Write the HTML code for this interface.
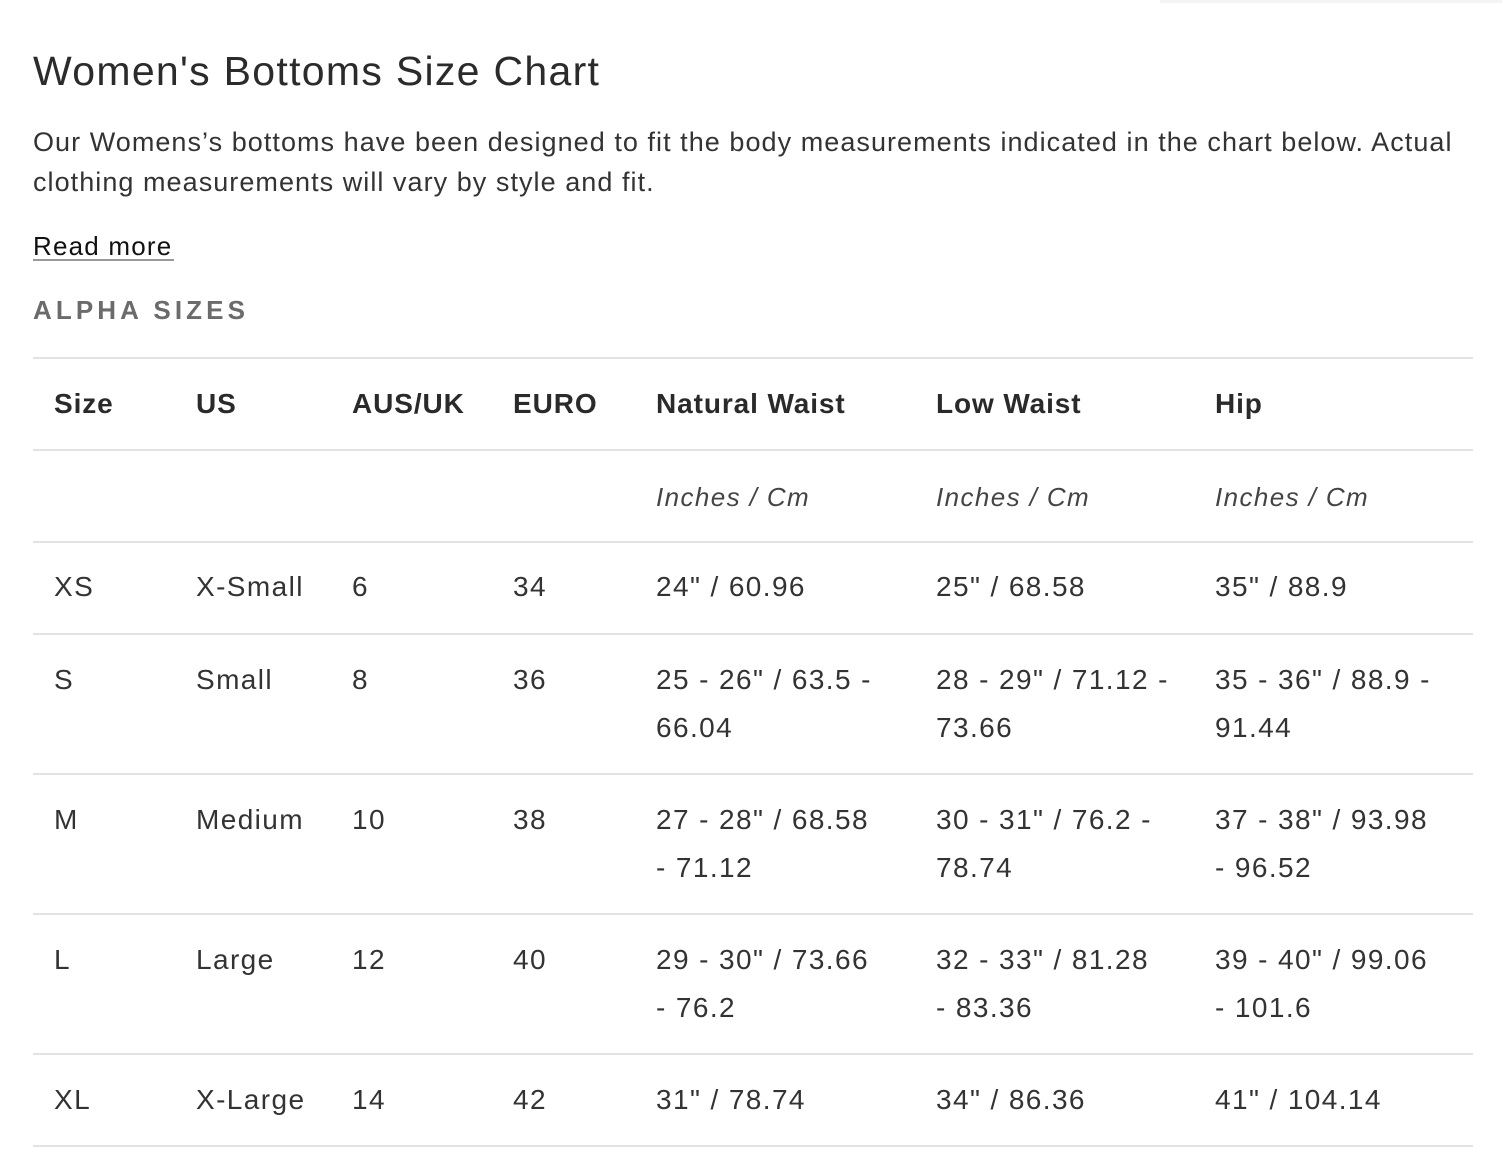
<!DOCTYPE html>
<html><head><meta charset="utf-8"><style>
body{margin:0;width:1502px;height:1172px;background:#fff;font-family:"Liberation Sans",sans-serif;color:#333;position:relative;overflow:hidden}
.a{position:absolute;white-space:nowrap}
.t{font-size:28px;line-height:48px;color:#333;letter-spacing:1.4px}
.h{font-weight:bold;font-size:28px;line-height:48px;color:#2a2a2a;letter-spacing:0.9px}
.i{font-style:italic;font-size:26px;line-height:48px;color:#444;letter-spacing:1.4px}
.ln{position:absolute;left:33px;width:1440px;height:2px;background:#e3e3e3}
</style></head><body>
<div style="position:absolute;left:1160px;top:0;width:342px;height:3px;background:#f4f4f4"></div>
<div class="a" style="left:33px;top:46px;font-size:41px;line-height:50px;color:#2b2b2b;letter-spacing:1.3px">Women's Bottoms Size Chart</div>
<div class="a" style="left:33px;top:122px;font-size:27px;line-height:40px;color:#333;letter-spacing:1.05px">Our Womens’s bottoms have been designed to fit the body measurements indicated in the chart below. Actual<br>clothing measurements will vary by style and fit.</div>
<div class="a" style="left:33px;top:228px;font-size:26px;line-height:36px;color:#111;letter-spacing:1.2px">Read more</div>
<div style="position:absolute;left:33px;top:259px;width:141px;height:2px;background:#999"></div>
<div class="a" style="left:33px;top:294px;font-size:26px;line-height:32px;font-weight:bold;letter-spacing:4.1px;color:#6b6b6b">ALPHA SIZES</div>

<div class="ln" style="top:357px"></div>
<div class="ln" style="top:449px"></div>
<div class="ln" style="top:541px"></div>
<div class="ln" style="top:633px"></div>
<div class="ln" style="top:773px"></div>
<div class="ln" style="top:913px"></div>
<div class="ln" style="top:1053px"></div>
<div class="ln" style="top:1145px"></div>

<div class="a h" style="left:54px;top:380px">Size</div>
<div class="a h" style="left:196px;top:380px">US</div>
<div class="a h" style="left:352px;top:380px">AUS/UK</div>
<div class="a h" style="left:513px;top:380px">EURO</div>
<div class="a h" style="left:656px;top:380px">Natural Waist</div>
<div class="a h" style="left:936px;top:380px">Low Waist</div>
<div class="a h" style="left:1215px;top:380px">Hip</div>

<div class="a i" style="left:656px;top:473px">Inches / Cm</div>
<div class="a i" style="left:936px;top:473px">Inches / Cm</div>
<div class="a i" style="left:1215px;top:473px">Inches / Cm</div>

<div class="a t" style="left:54px;top:563px">XS</div>
<div class="a t" style="left:196px;top:563px">X-Small</div>
<div class="a t" style="left:352px;top:563px">6</div>
<div class="a t" style="left:513px;top:563px">34</div>
<div class="a t" style="left:656px;top:563px">24" / 60.96</div>
<div class="a t" style="left:936px;top:563px">25" / 68.58</div>
<div class="a t" style="left:1215px;top:563px">35" / 88.9</div>

<div class="a t" style="left:54px;top:656px">S</div>
<div class="a t" style="left:196px;top:656px">Small</div>
<div class="a t" style="left:352px;top:656px">8</div>
<div class="a t" style="left:513px;top:656px">36</div>
<div class="a t" style="left:656px;top:656px">25 - 26" / 63.5 -<br>66.04</div>
<div class="a t" style="left:936px;top:656px">28 - 29" / 71.12 -<br>73.66</div>
<div class="a t" style="left:1215px;top:656px">35 - 36" / 88.9 -<br>91.44</div>

<div class="a t" style="left:54px;top:796px">M</div>
<div class="a t" style="left:196px;top:796px">Medium</div>
<div class="a t" style="left:352px;top:796px">10</div>
<div class="a t" style="left:513px;top:796px">38</div>
<div class="a t" style="left:656px;top:796px">27 - 28" / 68.58<br>- 71.12</div>
<div class="a t" style="left:936px;top:796px">30 - 31" / 76.2 -<br>78.74</div>
<div class="a t" style="left:1215px;top:796px">37 - 38" / 93.98<br>- 96.52</div>

<div class="a t" style="left:54px;top:936px">L</div>
<div class="a t" style="left:196px;top:936px">Large</div>
<div class="a t" style="left:352px;top:936px">12</div>
<div class="a t" style="left:513px;top:936px">40</div>
<div class="a t" style="left:656px;top:936px">29 - 30" / 73.66<br>- 76.2</div>
<div class="a t" style="left:936px;top:936px">32 - 33" / 81.28<br>- 83.36</div>
<div class="a t" style="left:1215px;top:936px">39 - 40" / 99.06<br>- 101.6</div>

<div class="a t" style="left:54px;top:1076px">XL</div>
<div class="a t" style="left:196px;top:1076px">X-Large</div>
<div class="a t" style="left:352px;top:1076px">14</div>
<div class="a t" style="left:513px;top:1076px">42</div>
<div class="a t" style="left:656px;top:1076px">31" / 78.74</div>
<div class="a t" style="left:936px;top:1076px">34" / 86.36</div>
<div class="a t" style="left:1215px;top:1076px">41" / 104.14</div>
</body></html>
